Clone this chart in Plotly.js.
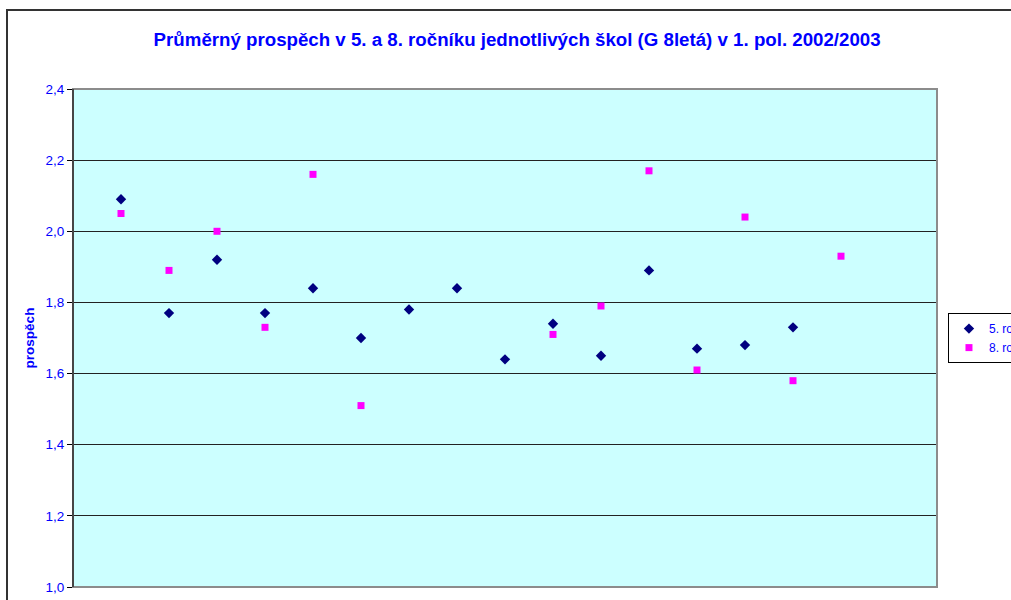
<!DOCTYPE html>
<html>
<head>
<meta charset="utf-8">
<script src="https://cdn.plot.ly/plotly-3.0.1.min.js"></script>
<style>
html,body{margin:0;padding:0;background:#fff;overflow:hidden;}
#wrap{position:relative;width:1011px;height:600px;}
#chart{position:absolute;left:0;top:0;width:1011px;height:600px;}
#frame{position:absolute;left:6px;top:9px;width:1100px;height:700px;border:2px solid #333;pointer-events:none;}
</style>
</head>
<body>
<div id="wrap"><div id="chart"></div><div id="frame"></div></div>
<script>
const schools = [1,2,3,4,5,6,7,8,9,10,11,12,13,14,15,16];
const grade5 = [2.09,1.77,1.92,1.77,1.84,1.70,1.78,1.84,1.64,1.74,1.65,1.89,1.67,1.68,1.73,null];
const grade8 = [2.05,1.89,2.00,1.73,2.16,1.51,null,null,null,1.71,1.79,2.17,1.61,2.04,1.58,1.93];
const seriesNames = ["5. ročník","8. ročník"];
const yTicks = [1.0,1.2,1.4,1.6,1.8,2.0,2.2,2.4];

const traces = [
  {x: schools, y: grade5, name: seriesNames[0], type: 'scatter', mode: 'markers',
   marker: {symbol: 'diamond', size: 8, color: '#000080'}},
  {x: schools, y: grade8, name: seriesNames[1], type: 'scatter', mode: 'markers',
   marker: {symbol: 'square', size: 7, color: '#FF00FF'}}
];

const layout = {
  width: 1011, height: 600,
  margin: {l: 73, r: 74, t: 89, b: 13, autoexpand: false},
  paper_bgcolor: '#ffffff',
  plot_bgcolor: '#CCFFFF',
  separators: ', ',
  showlegend: true,
  title: {text: '<b>Průměrný prospěch v 5. a 8. ročníku jednotlivých škol (G 8letá) v 1. pol. 2002/2003</b>',
          font: {family: 'Liberation Sans, Arial, sans-serif', size: 18.7, color: '#0000FF'},
          x: 0.5115, xanchor: 'center', y: 0.934, yanchor: 'middle'},
  xaxis: {range: [0, 18], showticklabels: false, showgrid: false, zeroline: false,
          showline: false, ticks: '', fixedrange: true},
  yaxis: {range: [1.0, 2.4], tickvals: yTicks, tickformat: '.1f', showgrid: true,
          gridcolor: '#222222', gridwidth: 1, zeroline: false,
          showline: true, linecolor: '#000000', linewidth: 1,
          ticks: 'outside', ticklen: 5, tickcolor: '#000000',
          tickfont: {family: 'Liberation Sans, Arial, sans-serif', size: 13.5, color: '#0000FF'},
          title: {text: '<b>prospěch</b>', standoff: 7,
                  font: {family: 'Liberation Sans, Arial, sans-serif', size: 13.5, color: '#0000FF'}}},
  legend: {x: 1.0127, xanchor: 'left', y: 0.55, yanchor: 'top',
           bgcolor: '#ffffff', bordercolor: '#000000', borderwidth: 1,
           font: {family: 'Liberation Sans, Arial, sans-serif', size: 12, color: '#0000FF'},
           itemwidth: 30, tracegroupgap: 0},
  shapes: [
    {type: 'rect', xref: 'paper', yref: 'paper', x0: 0, x1: 1, y0: 0, y1: 1,
     line: {color: '#8c8c8c', width: 2}, fillcolor: 'rgba(0,0,0,0)', layer: 'above'},
    {type: 'line', xref: 'paper', yref: 'paper', x0: 0, x1: 0, y0: 0, y1: 1,
     line: {color: '#000000', width: 1}, layer: 'above'}
  ]
};

Plotly.newPlot('chart', traces, layout, {displayModeBar: false, staticPlot: true});
</script>
</body>
</html>
